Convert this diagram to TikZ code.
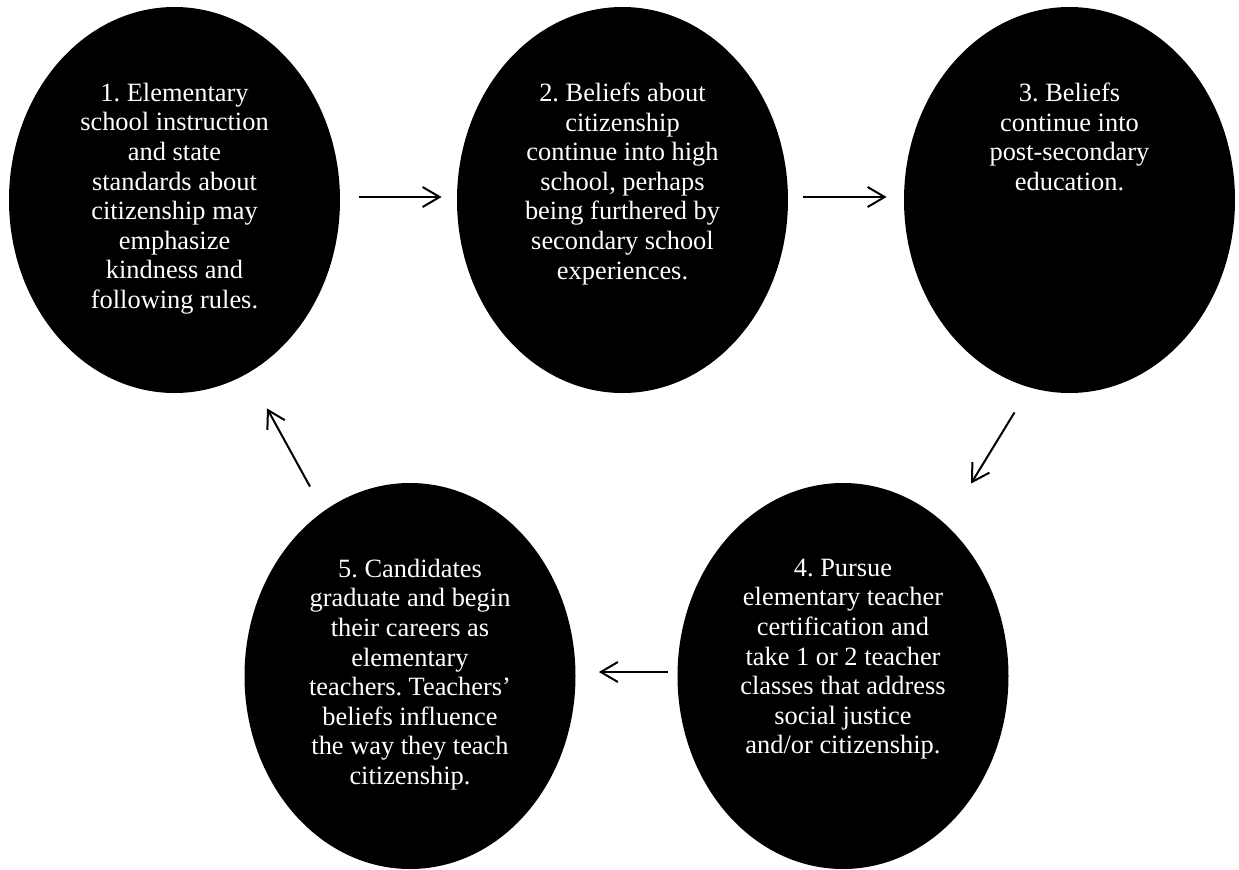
\documentclass[tikz,border=0pt]{standalone}
\usepackage{fontspec}
\setmainfont{Liberation Serif}
\usetikzlibrary{shapes.geometric}
\usetikzlibrary{arrows.meta}

\frenchspacing
\newcommand{\stagetext}[1]{\begin{minipage}[c][117pt][t]{112pt}\centering\fontsize{13.2}{14.8}\selectfont #1\end{minipage}}

\begin{document}
\begin{tikzpicture}[x=.5pt,y=-.5pt,
  stage/.style={ellipse,fill=black,text=white,inner sep=0pt,minimum width=165.5pt,minimum height=193pt},
  flow/.style={-{Straight Barb[length=8.5pt,width=10pt]},line width=1pt}]
\useasboundingbox (0,0) rectangle (1239,869);
% the five stages
\node[stage] (e1) at (174.5,200) {\stagetext{1. Elementary\\school instruction\\and state\\standards about\\citizenship may\\emphasize\\kindness and\\following rules.}};
\node[stage] (e2) at (622.5,200) {\stagetext{2. Beliefs about\\citizenship\\continue into high\\school, perhaps\\being furthered by\\secondary school\\experiences.}};
\node[stage] (e3) at (1069.5,200) {\stagetext{3. Beliefs\\continue into\\post-secondary\\education.}};
\node[stage] (e4) at (843,676) {\stagetext{4. Pursue\\elementary teacher\\certification and\\take 1 or 2 teacher\\classes that address\\social justice\\and/or citizenship.}};
\node[stage] (e5) at (410,676) {\stagetext{5. Candidates\\graduate and begin\\their careers as\\elementary\\teachers. Teachers’\\beliefs influence\\the way they teach\\citizenship.}};
% arrows
\draw[flow,shorten <=9.5pt,shorten >=7.5pt] ([yshift=1.5pt]e1.east) -- ([yshift=1.5pt]e2.west);
\draw[flow,shorten <=7.5pt,shorten >=8.5pt] ([yshift=1.5pt]e2.east) -- ([yshift=1.5pt]e3.west);
\draw[flow] ([shift={(-55,19)}]e3.south) -- ([shift={(128,1)}]e4.north);
\draw[flow,shorten <=4.75pt,shorten >=11.5pt] ([yshift=2pt]e4.west) -- ([yshift=2pt]e5.east);
\draw[flow] ([shift={(-100,4)}]e5.north) -- ([shift={(92.5,15)}]e1.south);
\end{tikzpicture}
\end{document}
